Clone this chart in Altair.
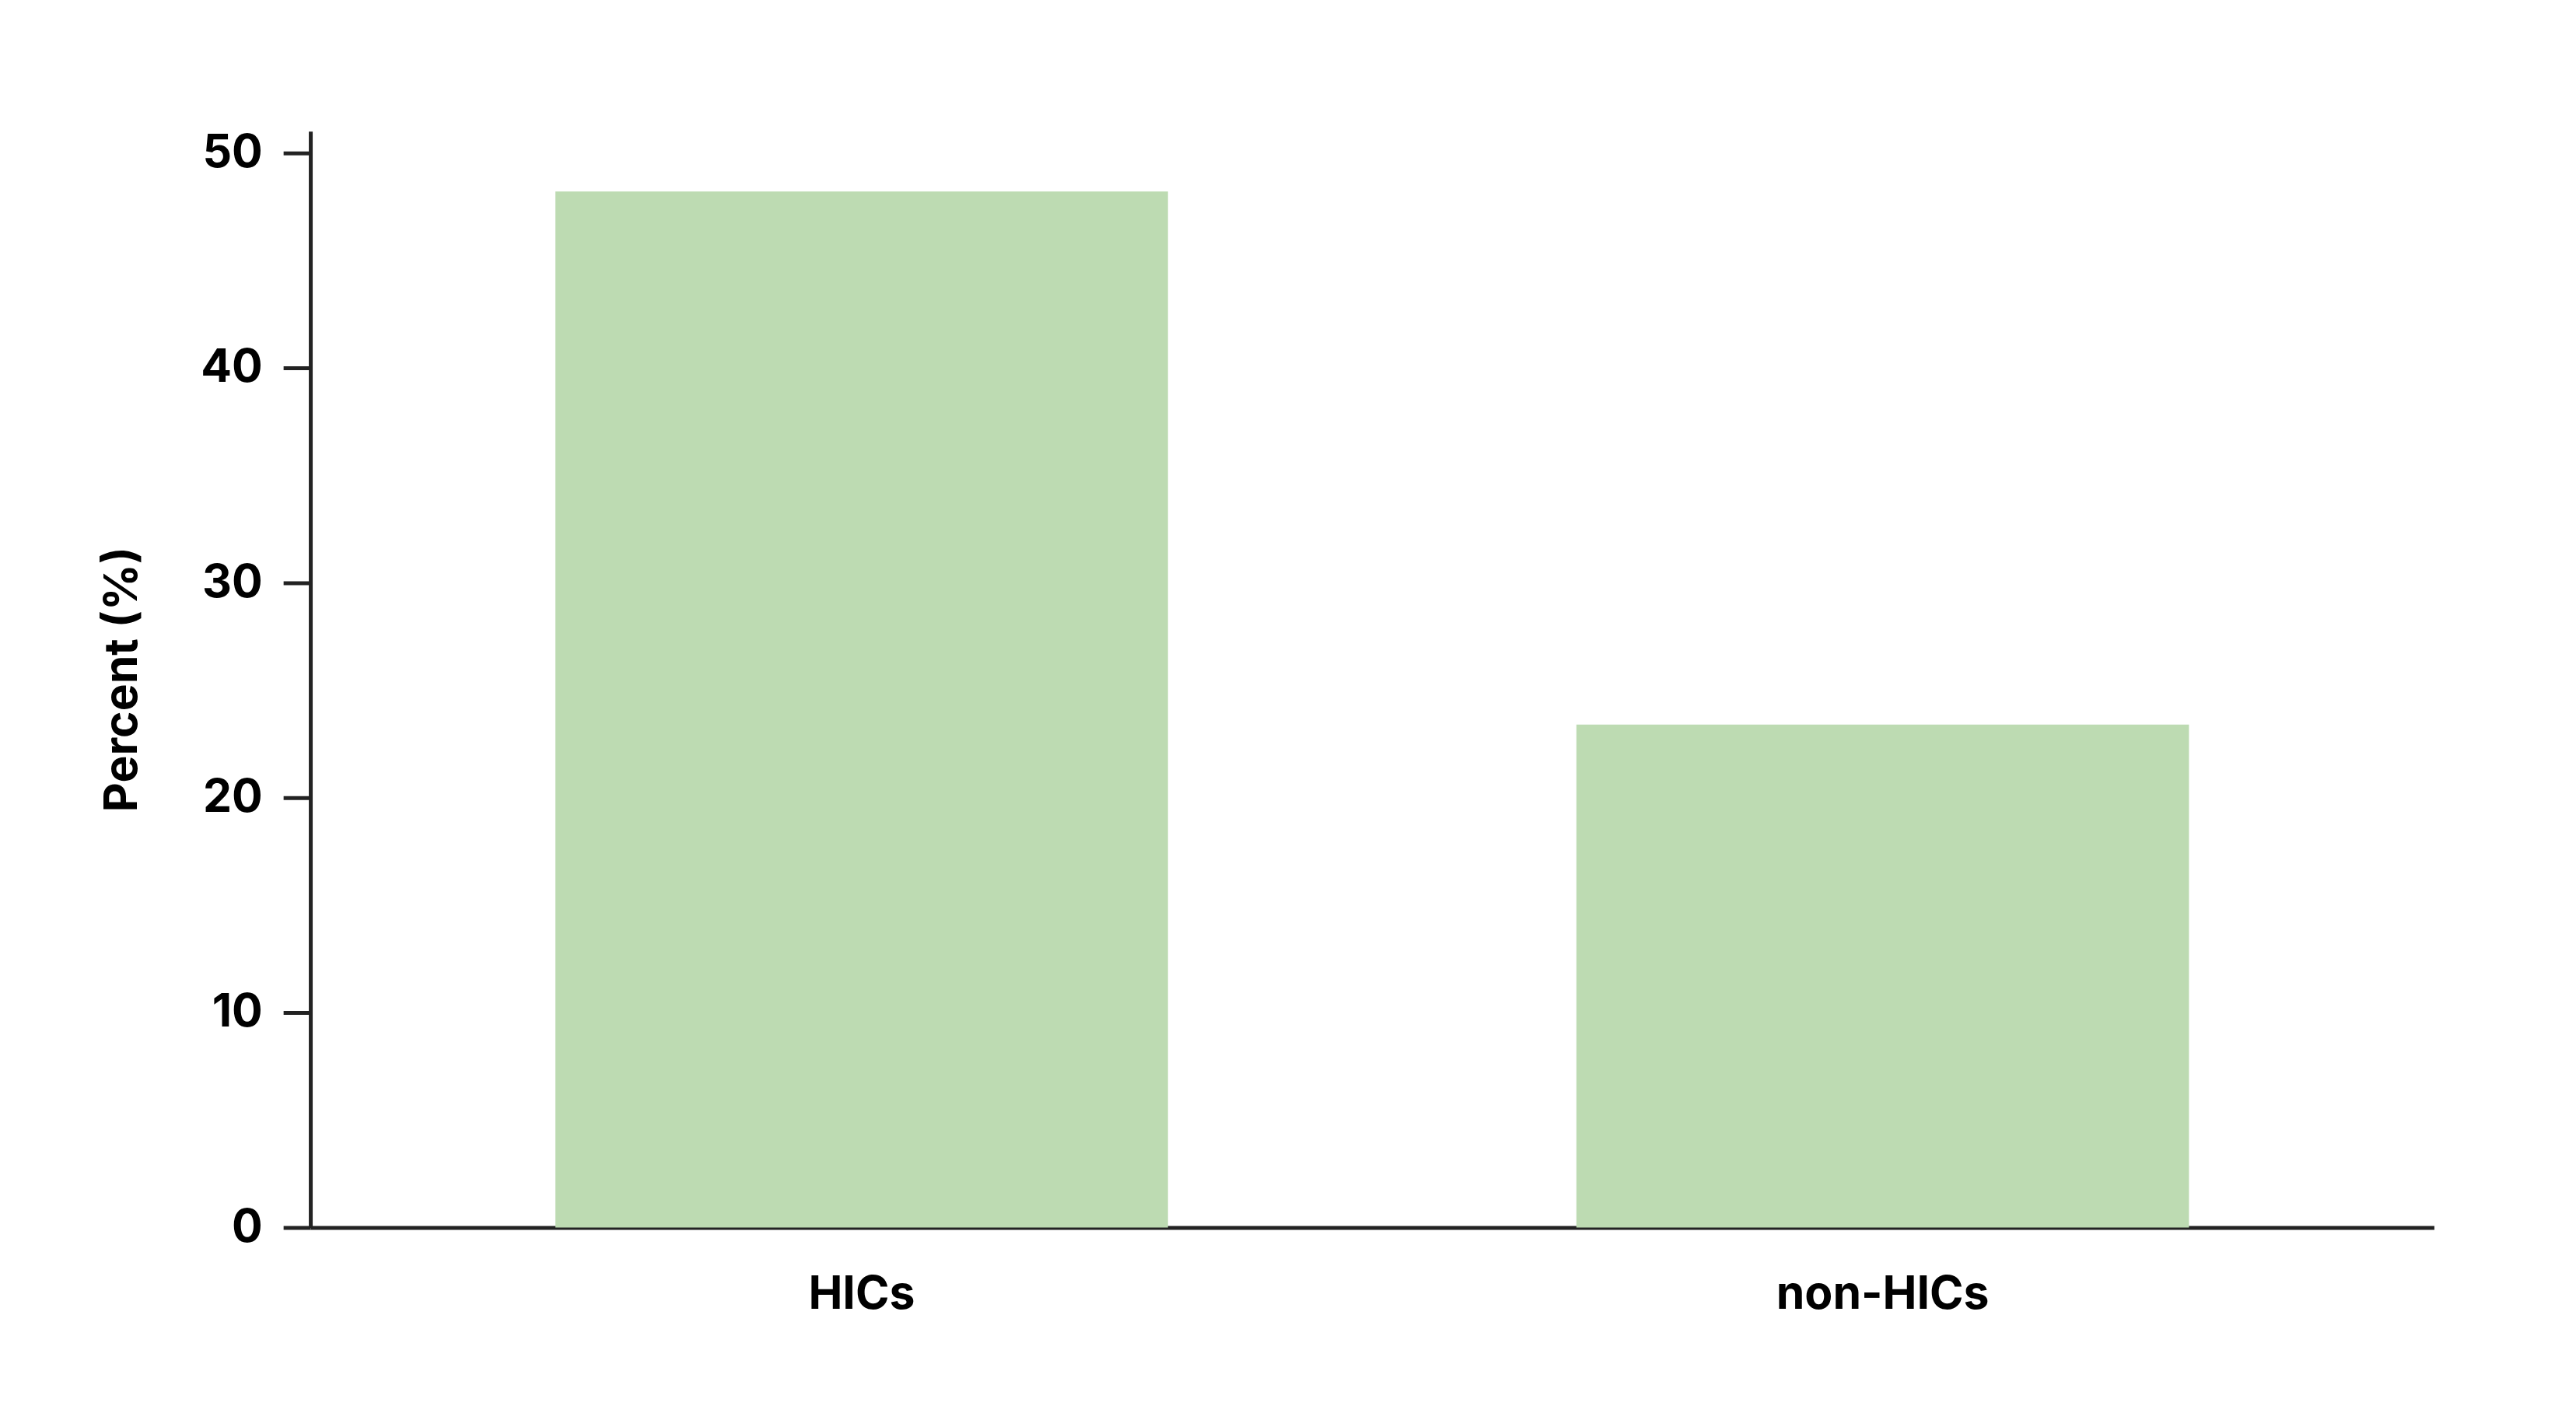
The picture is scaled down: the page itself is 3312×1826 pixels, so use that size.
import altair as alt
import pandas as pd

categories = ["HICs", "non-HICs"]
percent_values = [48.2, 23.4]
y_ticks = [0, 10, 20, 30, 40, 50]

df = pd.DataFrame({"group": categories, "percent": percent_values})

FONT = "Inter"
AXIS_COLOR = "#222222"

chart = (
    alt.Chart(df)
    .mark_bar(color="#BDDBB2")
    .encode(
        x=alt.X(
            "group:N",
            sort=categories,
            scale=alt.Scale(paddingInner=0.4, paddingOuter=0.24),
            axis=alt.Axis(
                title=None,
                labelAngle=0,
                ticks=False,
                tickSize=0,
                labelPadding=57,
                labelLimit=0,
                labelFont=FONT,
                labelFontSize=59,
                labelFontWeight="bold",
                labelColor="#000000",
                domainColor=AXIS_COLOR,
                domainWidth=5,
                grid=False,
            ),
        ),
        y=alt.Y(
            "percent:Q",
            scale=alt.Scale(domain=[0, 51], nice=False),
            axis=alt.Axis(
                title="Percent (%)",
                values=y_ticks,
                format="d",
                tickSize=35,
                tickWidth=5,
                tickColor=AXIS_COLOR,
                labelPadding=27,
                labelLimit=0,
                labelFont=FONT,
                labelFontSize=59,
                labelFontWeight="bold",
                labelColor="#000000",
                domainColor=AXIS_COLOR,
                domainWidth=5,
                titleFont=FONT,
                titleFontSize=59,
                titleFontWeight="bold",
                titleColor="#000000",
                titleX=-224,
                titleY=706,
                titleAngle=270,
                titleAlign="center",
                titleBaseline="alphabetic",
                titleLimit=0,
                grid=False,
            ),
        ),
    )
    .properties(
        width=2737,
        height=1413,
        background="white",
        autosize=alt.AutoSizeParams(type="none"),
        padding={"left": 392, "top": 159, "right": 175, "bottom": 246},
    )
    .configure_view(stroke="transparent", strokeWidth=0)
)

chart.save("out.html", embed_options={"renderer": "svg", "actions": False})
